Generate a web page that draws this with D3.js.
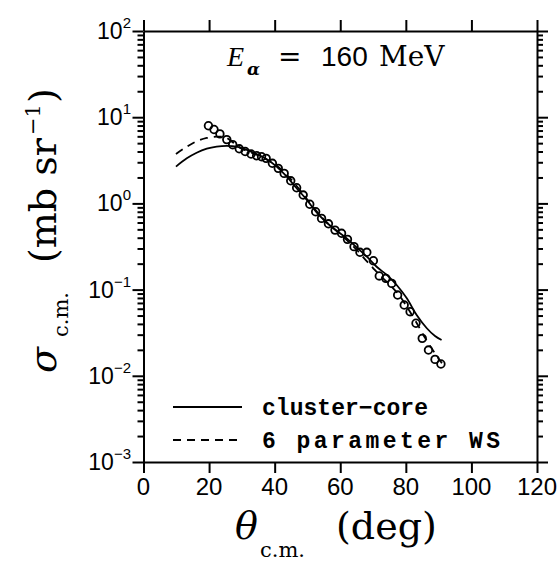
<!DOCTYPE html>
<html>
<head>
<meta charset="UTF-8">
<title>alpha 160 MeV</title>
<script src="https://cdn.jsdelivr.net/npm/d3@7"></script>
<style>
body { margin: 0; background: #fff; }
text { fill: #000; }
</style>
</head>
<body>
<svg id="chart" width="559" height="561"></svg>
<script>
// measured angular distribution (deg, mb/sr)
var expTheta = [19.8, 21.5, 23.3, 25.4, 27.2, 29.2, 31.0, 32.8, 34.5, 36.0, 37.4, 39.3, 41.1, 42.9, 44.9, 46.7, 48.7, 50.7, 52.5, 54.3, 56.4, 58.4, 60.4, 62.2, 64.2, 66.0, 68.1, 70.1, 71.9, 73.9, 75.7, 77.5, 79.5, 81.3, 83.1, 85.0, 86.9, 88.9, 90.7];
var expSigma = [7.96, 7.2, 6.4, 5.5, 4.8, 4.3, 4.0, 3.74, 3.57, 3.48, 3.33, 2.92, 2.55, 2.23, 1.83, 1.52, 1.25, 0.977, 0.80, 0.67, 0.58, 0.49, 0.45, 0.383, 0.315, 0.271, 0.271, 0.216, 0.144, 0.135, 0.118, 0.0865, 0.0662, 0.0554, 0.0407, 0.0272, 0.0199, 0.0155, 0.0137];

// cluster-core calculation
var ccTheta = [9.9, 13.2, 16.2, 19.3, 22.3, 25.4, 28.4, 31.5, 34.5, 37.6, 40.6, 43.7, 46.7, 49.8, 52.8, 55.9, 58.9, 62.0, 65.0, 68.1, 71.1, 74.2, 77.2, 80.3, 83.3, 86.4, 88.9, 90.9];
var ccSigma = [2.67, 3.33, 3.87, 4.31, 4.55, 4.64, 4.55, 4.17, 3.74, 3.25, 2.67, 2.04, 1.50, 1.10, 0.787, 0.597, 0.482, 0.393, 0.309, 0.241, 0.184, 0.148, 0.113, 0.0792, 0.0507, 0.0356, 0.0289, 0.0260];

// 6 parameter Woods-Saxon
var wsTheta = [9.9, 13.2, 16.2, 19.3, 22.3, 24.9, 27.4, 30, 35, 40, 45, 50, 55, 60, 65, 68, 70, 72, 75, 78, 80, 83, 86, 89, 91];
var wsSigma = [3.74, 4.55, 5.25, 5.74, 5.94, 5.85, 5.06, 4.3, 3.6, 2.85, 1.9, 1.1, 0.65, 0.44, 0.29, 0.215, 0.178, 0.148, 0.115, 0.086, 0.066, 0.043, 0.027, 0.018, 0.014];

var xTicks = [0, 20, 40, 60, 80, 100, 120];
var yExp = [-3, -2, -1, 0, 1, 2];
var legendNames = ["cluster\u2212core", "6 parameter WS"];

var svg = d3.select("#chart");
var x = d3.scaleLinear().domain([0, 120]).range([143.5, 537]);
var y = d3.scaleLog().domain([1e-3, 1e2]).range([462, 31]);

var majors = yExp.map(function(e) { return Math.pow(10, e); });
var minors = [];
for (var e = -3; e < 2; e++) {
	for (var m = 2; m < 10; m++) minors.push(m * Math.pow(10, e));
}

function styleAxis(g) {
	g.selectAll("path, line").attr("stroke", "#000").attr("stroke-width", 2);
	g.selectAll("text").remove();
}

svg.append("g").attr("transform", "translate(0,462)")
	.call(d3.axisBottom(x).tickValues(xTicks).tickSize(11).tickSizeOuter(0)).call(styleAxis);
svg.append("g").attr("transform", "translate(0,31)")
	.call(d3.axisTop(x).tickValues(xTicks).tickSize(11).tickSizeOuter(0)).call(styleAxis);
svg.append("g").attr("transform", "translate(143.5,0)")
	.call(d3.axisLeft(y).tickValues(majors).tickSize(11).tickSizeOuter(0)).call(styleAxis);
svg.append("g").attr("transform", "translate(537,0)")
	.call(d3.axisRight(y).tickValues(majors).tickSize(11).tickSizeOuter(0)).call(styleAxis);
svg.append("g").attr("transform", "translate(143.5,0)")
	.call(d3.axisLeft(y).tickValues(minors).tickSize(6).tickSizeOuter(0)).call(styleAxis)
	.select(".domain").remove();
svg.append("g").attr("transform", "translate(537,0)")
	.call(d3.axisRight(y).tickValues(minors).tickSize(6).tickSizeOuter(0)).call(styleAxis)
	.select(".domain").remove();

// tick labels
svg.append("g").selectAll("text").data(xTicks).enter().append("text")
	.attr("x", function(d) { return x(d); }).attr("y", 495)
	.attr("text-anchor", "middle")
	.style("font-family", "Liberation Sans, Arial, sans-serif").style("font-size", "24px")
	.text(function(d) { return d; });

var yl = svg.append("g").selectAll("text").data(yExp).enter().append("text")
	.attr("x", 131).attr("y", function(d) { return y(Math.pow(10, d)) + 8; })
	.attr("text-anchor", "end")
	.style("font-family", "Liberation Sans, Arial, sans-serif").style("font-size", "23px");
yl.append("tspan").text("10");
yl.append("tspan").attr("dy", -11).style("font-size", "15px")
	.text(function(d) { return d < 0 ? "\u2212" + (-d) : d; });

// curves
var line = d3.line().x(function(d) { return x(d[0]); }).y(function(d) { return y(d[1]); })
	.curve(d3.curveCatmullRom);
var ccData = d3.zip(ccTheta, ccSigma);
var wsData = d3.zip(wsTheta, wsSigma);
svg.append("path").datum(ccData).attr("d", line)
	.attr("fill", "none").attr("stroke", "#000").attr("stroke-width", 1.8);
svg.append("path").datum(wsData).attr("d", line)
	.attr("fill", "none").attr("stroke", "#000").attr("stroke-width", 1.8)
	.attr("stroke-dasharray", "8,6");

// data points
svg.append("g").selectAll("circle").data(d3.zip(expTheta, expSigma)).enter().append("circle")
	.attr("cx", function(d) { return x(d[0]); }).attr("cy", function(d) { return y(d[1]); })
	.attr("r", 3.8).attr("fill", "none").attr("stroke", "#000").attr("stroke-width", 1.8);

// title
var title = svg.append("text").attr("y", 66).style("font-size", "28px");
title.append("tspan").attr("x", 227).style("font-family", "Liberation Serif, serif").style("font-style", "italic").text("E");
title.append("tspan").attr("x", 247).attr("dy", 9).style("font-family", "DejaVu Serif, serif")
	.style("font-style", "italic").style("font-weight", "bold").style("font-size", "17px").text("\u03b1");
title.append("tspan").attr("x", 278).attr("dy", -9).style("font-family", "DejaVu Sans, sans-serif").text("=");
title.append("tspan").attr("x", 321).style("font-family", "Liberation Sans, Arial, sans-serif").text("160");
title.append("tspan").attr("x", 379).style("font-family", "DejaVu Serif, serif").text("MeV");

// legend
var legY = [407, 440];
var legW = [166, 238];
var legend = svg.append("g").selectAll("g").data(legendNames).enter().append("g");
legend.append("line")
	.attr("x1", 173).attr("x2", 242)
	.attr("y1", function(d, i) { return legY[i]; }).attr("y2", function(d, i) { return legY[i]; })
	.attr("stroke", "#000").attr("stroke-width", 2)
	.attr("stroke-dasharray", function(d, i) { return i ? "8,6" : null; });
legend.append("text")
	.attr("x", 262).attr("y", function(d, i) { return legY[i] + 8; })
	.attr("textLength", function(d, i) { return legW[i]; })
	.attr("lengthAdjust", "spacing")
	.style("font-family", "Liberation Mono, Courier New, monospace").style("font-weight", "bold")
	.style("font-size", "23px")
	.text(function(d) { return d; });

// axis titles
var xt = svg.append("text").attr("y", 539).style("font-family", "DejaVu Serif, serif").style("font-size", "38px");
xt.append("tspan").attr("x", 235).style("font-style", "italic").text("\u03b8");
xt.append("tspan").attr("x", 260).attr("dy", 18).style("font-size", "21px").text("c.m.");
xt.append("tspan").attr("x", 336).attr("dy", -18).text("(deg)");

var ytl = svg.append("text").attr("transform", "translate(56,373) rotate(-90)")
	.style("font-family", "DejaVu Serif, serif").style("font-size", "38px");
ytl.append("tspan").attr("x", 0).style("font-style", "italic").text("\u03c3");
ytl.append("tspan").attr("x", 36).attr("dy", 12).style("font-size", "21px").text("c.m.");
ytl.append("tspan").attr("x", 110).attr("dy", -12).text("(mb sr");
ytl.append("tspan").attr("dx", 3).attr("dy", -16).style("font-size", "21px").text("\u22121");
ytl.append("tspan").attr("dx", 1).attr("dy", 16).text(")");
</script>
</body>
</html>
